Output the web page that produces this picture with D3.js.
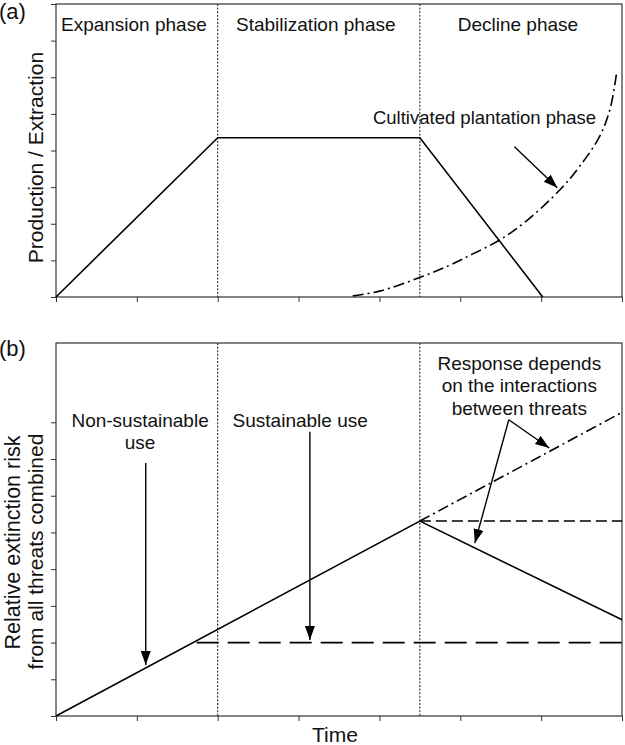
<!DOCTYPE html>
<html>
<head>
<meta charset="utf-8">
<script src="https://cdn.jsdelivr.net/npm/d3@7"></script>
<style>
  body { margin: 0; background: #fff; }
  text { font-family: "Liberation Sans", Arial, sans-serif; fill: #111; }
</style>
</head>
<body>
<div id="chart"></div>
<script>
// time axis, shared by both panels
const xTicks = [0, 1, 2, 3, 4, 5, 6, 7];
const phaseBounds = [2, 4.5];
const phaseNames = ['Expansion phase', 'Stabilization phase', 'Decline phase'];
const phaseCenters = [1, 3.25, 5.75];

// panel (a): production / extraction
const yTicksA = [0, 1, 2, 3, 4, 5, 6, 7, 8];
const extraction = [[0, 0], [2, 4.35], [4.5, 4.35], [6.02, 0]];
const plantation = [[3.67, 0.03], [4.0, 0.16], [4.52, 0.55], [4.87, 0.87], [5.15, 1.17],
  [5.49, 1.56], [5.82, 2.08], [6.23, 2.92], [6.47, 3.55], [6.72, 4.37], [6.85, 5.11], [6.93, 6.07]];

// panel (b): relative extinction risk
const yTicksB = [0, 1, 2, 3, 4, 5, 6, 7, 8];
const riskUse = [[0, 0], [4.5, 5.31], [7, 2.62]];
const riskUp = [[4.5, 5.31], [7, 8.27]];
const riskFlat = [[4.5, 5.31], [7, 5.31]];
const sustainable = [[1.74, 2], [7, 2]];

function trans(x, y) {
  return 'translate(' + x + ',' + y + ')';
}

const W = 625, H = 745;
const left = 56, right = 622;

const svg = d3.select('#chart').append('svg')
  .attr('width', W).attr('height', H);

svg.append('defs').append('marker')
  .attr('id', 'head')
  .attr('markerUnits', 'userSpaceOnUse')
  .attr('markerWidth', 16).attr('markerHeight', 12)
  .attr('refX', 14).attr('refY', 5)
  .attr('orient', 'auto')
  .append('path')
  .attr('d', 'M0,0L14,5L0,10Z')
  .attr('fill', '#000');

const x = d3.scaleLinear().domain([0, 7]).range([left, right]);

function panel(top, bottom, yMax, yTicks) {
  const y = d3.scaleLinear().domain([0, yMax]).range([bottom, top]);
  const g = svg.append('g');

  g.append('g')
    .attr('transform', trans(0, bottom))
    .call(d3.axisBottom(x).tickValues(xTicks).tickSize(5).tickSizeOuter(0).tickFormat(''))
    .call(a => a.select('.domain').remove())
    .selectAll('line').attr('stroke', '#333');

  g.append('g')
    .attr('transform', trans(left, 0))
    .call(d3.axisLeft(y).tickValues(yTicks).tickSize(5).tickSizeOuter(0).tickFormat(''))
    .call(a => a.select('.domain').remove())
    .selectAll('line').attr('stroke', '#333');

  g.append('rect')
    .attr('x', left).attr('y', top)
    .attr('width', right - left).attr('height', bottom - top)
    .attr('fill', 'none').attr('stroke', '#333').attr('stroke-width', 1.2);

  g.selectAll('.phase')
    .data(phaseBounds)
    .enter().append('line')
    .attr('x1', d => x(d)).attr('x2', d => x(d))
    .attr('y1', top).attr('y2', bottom)
    .attr('stroke', '#111').attr('stroke-width', 1)
    .attr('stroke-dasharray', '2,1.6');

  return { g, y };
}

function drawLine(p, data, dash, curve) {
  const line = d3.line()
    .x(d => x(d[0])).y(d => p.y(d[1]))
    .curve(curve || d3.curveLinear);
  p.g.append('path')
    .datum(data)
    .attr('d', line)
    .attr('fill', 'none')
    .attr('stroke', '#000')
    .attr('stroke-width', 1.6)
    .attr('stroke-dasharray', dash || null);
}

function arrow(p, from, to) {
  p.g.append('line')
    .attr('x1', x(from[0])).attr('y1', p.y(from[1]))
    .attr('x2', x(to[0])).attr('y2', p.y(to[1]))
    .attr('stroke', '#000').attr('stroke-width', 1.4)
    .attr('marker-end', 'url(#head)');
}

function label(p, lines, cx, cy, size) {
  const t = p.g.append('text')
    .attr('text-anchor', 'middle')
    .attr('font-size', size || 19);
  lines.forEach((s, i) => {
    t.append('tspan')
      .attr('x', x(cx))
      .attr('y', p.y(cy))
      .attr('dy', i ? (i * 1.18) + 'em' : 0)
      .text(s);
  });
}

// ---- panel (a)
const pa = panel(4, 297, 8, yTicksA);

pa.g.selectAll('.pname')
  .data(phaseNames)
  .enter().append('text')
  .attr('x', (d, i) => x(phaseCenters[i]) - 3)
  .attr('y', pa.y(7.27))
  .attr('text-anchor', 'middle')
  .attr('font-size', 19)
  .text(d => d);

drawLine(pa, extraction);
drawLine(pa, plantation, '11,4,2,4', d3.curveCatmullRom);
label(pa, ['Cultivated plantation phase'], 5.30, 4.73, 18.5);
arrow(pa, [5.67, 4.10], [6.20, 2.98]);

svg.append('text')
  .attr('x', -1).attr('y', 19)
  .attr('font-size', 22)
  .text('(a)');

svg.append('text')
  .attr('transform', trans(43, 157.5) + ' rotate(-90)')
  .attr('text-anchor', 'middle')
  .attr('font-size', 21)
  .text('Production / Extraction');

// ---- panel (b)
const pb = panel(343, 716, 10.16, yTicksB);

drawLine(pb, riskUse);
drawLine(pb, riskUp, '11,4,2,4');
drawLine(pb, riskFlat, '11,5');
drawLine(pb, sustainable, '22,9');

label(pb, ['Non-sustainable', 'use'], 1.04, 7.87);
arrow(pb, [1.11, 6.89], [1.11, 1.39]);
label(pb, ['Sustainable use'], 3.02, 7.87);
arrow(pb, [3.14, 7.74], [3.14, 2.07]);
label(pb, ['Response depends', 'on the interactions', 'between threats'], 5.73, 9.43);
arrow(pb, [5.60, 8.07], [6.10, 7.30]);
arrow(pb, [5.60, 8.07], [5.18, 4.71]);

svg.append('text')
  .attr('x', -1).attr('y', 356)
  .attr('font-size', 22)
  .text('(b)');

svg.append('text')
  .attr('transform', trans(20, 542.5) + ' rotate(-90)')
  .attr('text-anchor', 'middle')
  .attr('font-size', 21.5)
  .text('Relative extinction risk');

svg.append('text')
  .attr('transform', trans(43, 551.5) + ' rotate(-90)')
  .attr('text-anchor', 'middle')
  .attr('font-size', 21)
  .text('from all threats combined');

svg.append('text')
  .attr('x', 335).attr('y', 742)
  .attr('text-anchor', 'middle')
  .attr('font-size', 21)
  .text('Time');
</script>
</body>
</html>
